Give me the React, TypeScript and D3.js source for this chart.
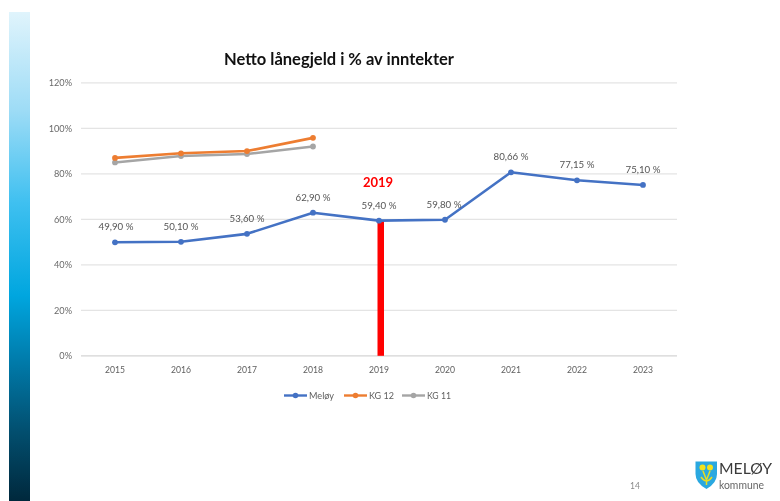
import React from "react";
import * as d3 from "d3";

const years = ["2015","2016","2017","2018","2019","2020","2021","2022","2023"];
const meloy = [49.9,50.1,53.6,62.9,59.4,59.8,80.66,77.15,75.1];
const meloyLabels = ["49,90 %","50,10 %","53,60 %","62,90 %","59,40 %","59,80 %","80,66 %","77,15 %","75,10 %"];
const kg12 = [87,89,90,95.8];
const kg11 = [85,87.8,88.7,92];
const yTicks = [0,20,40,60,80,100,120];
const legendItems = [
  {name:"Meløy", color:"#4472c4", lx:284, tx:309, w:25},
  {name:"KG 12", color:"#ed7d31", lx:344, tx:369, w:25},
  {name:"KG 11", color:"#a5a5a5", lx:402, tx:427, w:24},
];
const font = "Lato, 'Open Sans', sans-serif";

export default function App() {
  const x = d3.scalePoint<string>().domain(years).range([115,643]);
  const y = d3.scaleLinear().domain([0,120]).range([355.8,82.8]);
  const line = d3.line<number>().x((_,i)=>x(years[i])!).y(d=>y(d));
  const series = [
    {v:kg11,c:"#a5a5a5"},
    {v:kg12,c:"#ed7d31"},
    {v:meloy,c:"#4472c4"},
  ];
  const gradStops: [string,string][] = [
    ["0%","#e0f4fc"],["20%","#9edcf6"],["39%","#3fc0f0"],["58%","#00a6df"],
    ["72%","#0079a8"],["86%","#024e6e"],["100%","#00283c"],
  ];
  return (
    <svg width={780} height={501} style={{position:"absolute",left:0,top:0,background:"#fff",filter:"blur(0.35px)"}}>
      <defs>
        <linearGradient id="side" x1="0" y1="0" x2="0" y2="1">
          {gradStops.map(([o,c])=><stop key={o} offset={o} stopColor={c}/>)}
        </linearGradient>
      </defs>
      <rect x={9} y={12} width={21} height={489} fill="url(#side)"/>
      <text x={224} y={65} fontFamily={font} fontSize={17.5} fontWeight={700} fill="#111" textLength={230} lengthAdjust="spacingAndGlyphs">Netto lånegjeld i % av inntekter</text>
      {yTicks.map(t=>(
        <g key={t}>
          <line x1={81} x2={677} y1={y(t)} y2={y(t)} stroke={t===0?"#d4d4d4":"#e4e4e4"} strokeWidth={1.2}/>
          <text x={72} y={y(t)+3.5} textAnchor="end" fontFamily={font} fontSize={9.2} fill="#6a6a6a">{t}%</text>
        </g>
      ))}
      {years.map(yr=>(
        <text key={yr} x={x(yr)!} y={373} textAnchor="middle" fontFamily={font} fontSize={10} fill="#5f5f5f" textLength={20} lengthAdjust="spacingAndGlyphs">{yr}</text>
      ))}
      <rect x={377.5} y={y(59.4)} width={6.5} height={y(0)-y(59.4)} fill="#ff0000"/>
      {series.map(s=>(
        <g key={s.c}>
          <path d={line(s.v)!} fill="none" stroke={s.c} strokeWidth={2.6} strokeLinejoin="round"/>
          {s.v.map((d,i)=><circle key={i} cx={x(years[i])!} cy={y(d)} r={2.9} fill={s.c}/>)}
        </g>
      ))}
      {meloy.map((d,i)=>(
        <text key={i} x={x(years[i])!+ (i===5?-1:i===0?1:0)} y={y(d)-12} textAnchor="middle" fontFamily={font} fontSize={10} fill="#555" textLength={35} lengthAdjust="spacingAndGlyphs">{meloyLabels[i]}</text>
      ))}
      <text x={378} y={187} textAnchor="middle" fontFamily={font} fontSize={13} fontWeight={700} fill="#ff0000">2019</text>
      {legendItems.map(l=>(
        <g key={l.name}>
          <line x1={l.lx} x2={l.lx+23} y1={395.5} y2={395.5} stroke={l.color} strokeWidth={2.4}/>
          <circle cx={l.lx+11.5} cy={395.5} r={2.8} fill={l.color}/>
          <text x={l.tx} y={399} fontFamily={font} fontSize={10} fill="#5f5f5f" textLength={l.w} lengthAdjust="spacingAndGlyphs">{l.name}</text>
        </g>
      ))}
      <text x={635} y={489} textAnchor="middle" fontFamily={font} fontSize={8.5} fill="#8a8a8a">14</text>
      <path d="M695.5,461.5 H717 V474 Q717,483 706.5,489 Q695.5,483 695.5,474 Z" fill="#2aa8e0"/>
      <circle cx={702.5} cy={467.5} r={3} fill="#f2e21c"/>
      <circle cx={710} cy={467.5} r={3} fill="#f2e21c"/>
      <path d="M703,471 L706.5,480 L710,471 M706.5,480 V485 M701,477 Q704,481 706.5,481 Q709,481 712,477" fill="none" stroke="#e8dc20" strokeWidth={1.5}/>
      <text x={719} y={474} fontFamily={font} fontSize={16} fill="#3a3a3a" textLength={53} lengthAdjust="spacingAndGlyphs">MELØY</text>
      <text x={719} y={489} fontFamily={font} fontSize={11} fill="#666" textLength={45} lengthAdjust="spacingAndGlyphs">kommune</text>
    </svg>
  );
}
